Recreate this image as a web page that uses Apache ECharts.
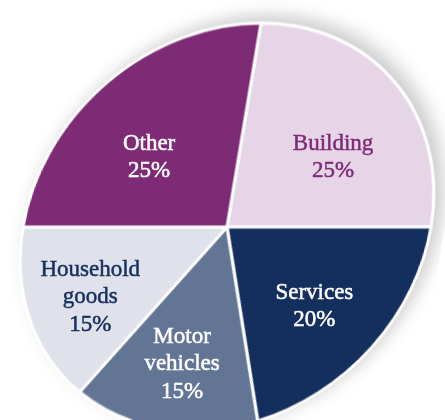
<!DOCTYPE html>
<html>
<head>
<meta charset="utf-8">
<script src="https://cdn.jsdelivr.net/npm/echarts@6/dist/echarts.min.js"></script>
<style>
  html, body { margin: 0; padding: 0; background: #fff; }
  #wrap { position: relative; width: 445px; height: 420px; overflow: hidden; }
  #pie, #labels { position: absolute; left: 0; top: 0; width: 445px; height: 420px; }
  /* the printed pie is drawn in a slanted perspective */
  #pie { transform: skewX(-9.46deg); transform-origin: 227px 227px; }
</style>
</head>
<body>
<div id="wrap">
  <div id="pie"></div>
  <div id="labels"></div>
</div>
<script>
const categories = ['Building', 'Services', 'Motor vehicles', 'Household goods', 'Other']
const shares = [25, 20, 15, 15, 25]
const colors = ['#e6d5e6', '#142e5e', '#637595', '#dfe2ea', '#7e2b76']
const labelColors = ['#7e2b76', '#ffffff', '#ffffff', '#142e5e', '#ffffff']

const SLANT = Math.tan(9.46 * Math.PI / 180)
const CX = 227
const CY = 227

const data = categories.map((name, i) => ({ name: name, value: shares[i] }))

const pieChart = echarts.init(document.getElementById('pie'))
pieChart.setOption({
  animation: false,
  series: [
    {
      // soft drop shadow behind the whole pie
      type: 'pie',
      silent: true,
      center: [CX, CY],
      radius: [0, 205],
      label: { show: false },
      itemStyle: {
        color: '#ffffff',
        shadowBlur: 18,
        shadowColor: 'rgba(60, 60, 70, 0.28)',
        shadowOffsetX: 7,
        shadowOffsetY: -6
      },
      data: [{ name: 'bg', value: 1 }]
    },
    {
      type: 'pie',
      silent: true,
      center: [CX, CY],
      radius: [0, 204],
      startAngle: 90,
      clockwise: true,
      label: { show: false },
      labelLine: { show: false },
      itemStyle: {
        color: (p) => colors[p.dataIndex],
        borderColor: '#ffffff',
        borderWidth: 3
      },
      data: data
    }
  ]
})

// small hand nudges so the labels sit where the print has them
const nudge = {
  'Building': [4, 21],
  'Services': [-3, 4],
  'Motor vehicles': [-2, 11],
  'Household goods': [-11, 12],
  'Other': [1, 21]
}

const labelChart = echarts.init(document.getElementById('labels'))
labelChart.setOption({
  animation: false,
  series: [
    {
      type: 'pie',
      silent: true,
      center: [CX, CY],
      radius: [0, 250],
      startAngle: 90,
      clockwise: true,
      itemStyle: { color: 'rgba(0,0,0,0)' },
      labelLine: { show: false },
      label: {
        show: true,
        position: 'inside',
        fontFamily: 'Liberation Serif',
        fontSize: 23,
        lineHeight: 27.5,
        align: 'center',
        formatter: (p) => p.name.replace(' ', '\n') + '\n' + p.percent + '%'
      },
      labelLayout: (p) => {
        const mid = p.labelRect.y + p.labelRect.height / 2
        return { dx: -SLANT * (mid - CY) }
      },
      data: data.map((d, i) => ({
        name: d.name,
        value: d.value,
        label: {
          color: labelColors[i],
          textBorderColor: labelColors[i],
          textBorderWidth: 0.5,
          offset: nudge[d.name]
        }
      }))
    }
  ]
})
</script>
</body>
</html>
